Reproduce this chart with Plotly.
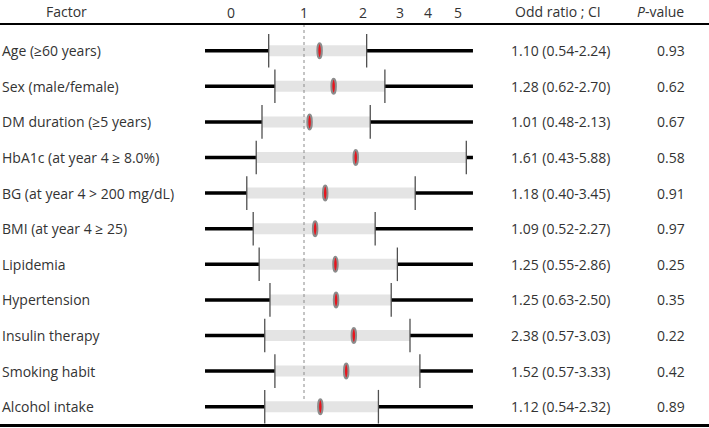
import plotly.graph_objects as go

# ---------------- data ----------------
factors = ["Age (≥60 years)", "Sex (male/female)", "DM duration (≥5 years)",
           "HbA1c (at year 4 ≥ 8.0%)", "BG (at year 4 > 200 mg/dL)", "BMI (at year 4 ≥ 25)",
           "Lipidemia", "Hypertension", "Insulin therapy", "Smoking habit", "Alcohol intake"]
or_ci_text = ["1.10 (0.54-2.24)", "1.28 (0.62-2.70)", "1.01 (0.48-2.13)", "1.61 (0.43-5.88)",
              "1.18 (0.40-3.45)", "1.09 (0.52-2.27)", "1.25 (0.55-2.86)", "1.25 (0.63-2.50)",
              "2.38 (0.57-3.03)", "1.52 (0.57-3.33)", "1.12 (0.54-2.32)"]
p_values = ["0.93", "0.62", "0.67", "0.58", "0.91", "0.97", "0.25", "0.35", "0.22", "0.42", "0.89"]

est_drawn = [1.17, 1.38, 1.04, 1.79, 1.25, 1.11, 1.41, 1.42, 1.75, 1.60, 1.18]
lo_drawn = [0.66, 0.71, 0.61, 0.57, 0.51, 0.55, 0.59, 0.67, 0.63, 0.71, 0.63]
hi_drawn = [2.09, 2.59, 2.18, 6.75, 3.70, 2.31, 3.00, 2.79, 3.48, 3.91, 2.40]
line_span = [0.312, 7.30]          # extent of the black whisker line
ref_value = 1                       # dotted reference line

tick_labels = ["0", "1", "2", "3", "4", "5"]
tick_vals = [0.424, 1, 2, 3.09, 4.30, 6.12]

# ---------------- figure ----------------
FONT = "Open Sans"
TXT = "#333333"
n = len(factors)
rows = [-i for i in range(n)]

fig = go.Figure()

# black whisker lines
bx, by = [], []
for r in rows:
    bx += [line_span[0], line_span[1], None]
    by += [r, r, None]
fig.add_trace(go.Scatter(x=bx, y=by, mode="lines",
                         line=dict(color="black", width=3.5), hoverinfo="skip"))

# grey CI bars
gx, gy = [], []
for lo, hi, r in zip(lo_drawn, hi_drawn, rows):
    gx += [lo, hi, None]
    gy += [r, r, None]
fig.add_trace(go.Scatter(x=gx, y=gy, mode="lines",
                         line=dict(color="#e4e4e4", width=11), hoverinfo="skip"))

# dotted reference line at 1
fig.add_trace(go.Scatter(x=[ref_value, ref_value], y=[0.75, rows[-1] + 0.2], mode="lines",
                         line=dict(color="#8a8a8a", width=1, dash="dot"), hoverinfo="skip"))

# CI end ticks
fig.add_trace(go.Scatter(x=lo_drawn + hi_drawn, y=rows + rows, mode="markers",
                         marker=dict(symbol="line-ns", size=24,
                                     line=dict(color="#505050", width=1.3)),
                         hoverinfo="skip"))

shapes = []
# elliptical point estimates
for e, r in zip(est_drawn, rows):
    shapes.append(dict(type="circle", xref="x", yref="y", xsizemode="pixel", ysizemode="pixel",
                       xanchor=e, yanchor=r, x0=-4.5, x1=4.5, y0=-7.5, y1=7.5,
                       fillcolor="#e8141c", line=dict(color="#8c8c8c", width=2)))
# table rules
shapes.append(dict(type="line", xref="paper", yref="paper", x0=0, x1=1, y0=1, y1=1,
                   line=dict(color="black", width=2)))
shapes.append(dict(type="line", xref="paper", yref="paper", x0=0, x1=1, y0=0.0062, y1=0.0062,
                   line=dict(color="black", width=3)))

annotations = []
HEAD_Y = 1.0304
annotations.append(dict(text="Factor", xref="paper", yref="paper", x=66 / 709, y=HEAD_Y,
                        xanchor="center", yanchor="middle", showarrow=False))
annotations.append(dict(text="Odd ratio ; CI", xref="paper", yref="paper", x=557.5 / 709, y=HEAD_Y,
                        xanchor="center", yanchor="middle", showarrow=False))
annotations.append(dict(text="<i>P</i>-value", xref="paper", yref="paper", x=660 / 709, y=HEAD_Y,
                        xanchor="center", yanchor="middle", showarrow=False))
for f, t, p, r in zip(factors, or_ci_text, p_values, rows):
    annotations.append(dict(text=f, xref="paper", yref="y", x=0, y=r,
                            xanchor="left", yanchor="middle", showarrow=False))
    annotations.append(dict(text=t, xref="paper", yref="y", x=560.5 / 709, y=r,
                            xanchor="center", yanchor="middle", showarrow=False))
    annotations.append(dict(text=p, xref="paper", yref="y", x=671 / 709, y=r,
                            xanchor="center", yanchor="middle", showarrow=False))

fig.update_layout(
    width=709, height=428,
    margin=dict(l=0, r=0, t=24, b=0),
    paper_bgcolor="white", plot_bgcolor="white",
    showlegend=False,
    font=dict(family=FONT, size=14, color=TXT),
    shapes=shapes, annotations=annotations,
    xaxis=dict(type="log", range=[-1.5534, 2.0694], side="top",
               tickvals=tick_vals, ticktext=tick_labels, ticks="",
               ticklabelstandoff=2,
               showgrid=False, showline=False, zeroline=False,
               tickfont=dict(family=FONT, size=14, color=TXT), fixedrange=True),
    yaxis=dict(range=[-10.598, 0.75], visible=False, fixedrange=True),
)

fig.write_html("out.html", config={"displayModeBar": False},
               post_script="document.body.style.margin='0';document.body.style.overflow='hidden';")
